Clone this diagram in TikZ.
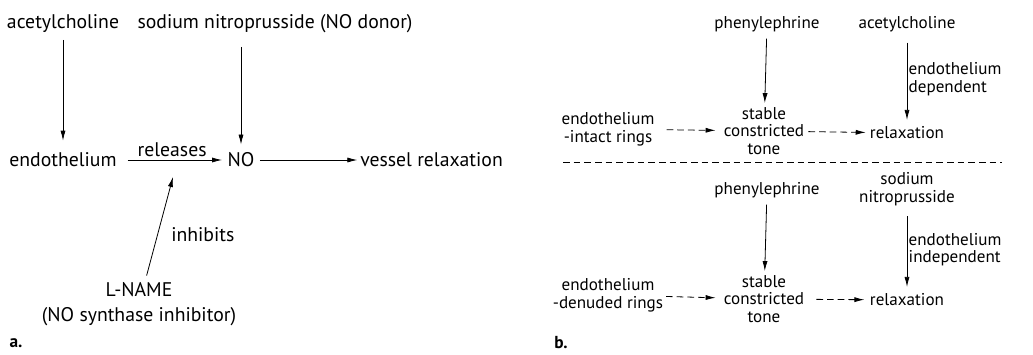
\documentclass[tikz,border=0pt]{standalone}
\usepackage{fontspec}
\setmainfont{PT Sans}
\usetikzlibrary{arrows.meta}

\begin{document}
\begin{tikzpicture}[
    x=0.75pt, y=-0.75pt,
    txta/.style={inner sep=0pt, align=center,
                 font=\fontsize{14.8}{18.8}\selectfont},
    txtb/.style={inner sep=0pt, align=center,
                 font=\fontsize{12.8}{13.2}\selectfont},
    arrow/.style={-{Latex[length=7.5pt, width=3.8pt]}, line width=0.6pt},
    dasharrow/.style={arrow, dash pattern=on 5pt off 3pt},
    panel/.style={inner sep=0pt, font=\bfseries\fontsize{13}{15}\selectfont}
]
    \useasboundingbox (0,0) rectangle (1033,354);

    % Panel a
    \node[txta] (ach) at (63, 24) {acetylcholine};
    \node[txta] (snp) at (275, 24) {sodium nitroprusside (NO donor)};
    \node[txta] (endo) at (63, 160) {endothelium};
    \node[txta] (no) at (241, 160) {NO};
    \node[txta, anchor=west] (vessel) at (360, 160) {vessel relaxation};
    \node[txta] (lname) at (139, 304) {L-NAME\\(NO synthase inhibitor)};
    \coordinate (inhtip) at (173, 177);
    \node[panel] (pa) at (16, 343) {a.};

    \draw[arrow, shorten <=5pt, shorten >=9pt] (ach) -- (endo);
    \draw[arrow, shorten <=10pt, shorten >=6pt] (snp.south -| no) -- (no);
    \draw[arrow, shorten <=8pt, shorten >=4pt] (endo) --
        node[above=2pt, txta] {releases} (no);
    \draw[arrow, shorten <=4pt, shorten >=2pt] (no) -- (vessel);
    \draw[arrow, shorten <=5pt] (lname) -- node[pos=0.45, right=10pt, txta]
        {inhibits} (inhtip);

    % Panel b, endothelium-intact
    \node[txtb] (phen1) at (767, 24) {phenylephrine};
    \node[txtb] (ach2) at (907, 24) {acetylcholine};
    \node[txtb] (intact) at (608, 129) {endothelium\\-intact rings};
    \node[txtb] (stable1) at (764, 131) {stable\\constricted\\tone};
    \node[txtb] (relax1) at (907, 133) {relaxation};

    \draw[arrow, shorten <=5pt, shorten >=3pt] (phen1) -- (stable1);
    \draw[arrow, shorten <=8pt, shorten >=5pt] (ach2) --
        node[right, txtb, align=left, inner sep=1pt] {endothelium\\dependent} (relax1);
    \draw[dasharrow, shorten <=9pt, shorten >=6pt] (intact) -- (stable1);
    \draw[dasharrow, shorten <=3pt, shorten >=3pt] (stable1) -- (relax1);

    % Trennlinie
    \draw[line width=0.6pt, dash pattern=on 5pt off 3pt] (563, 162) -- (1002, 162);

    % Panel b, endothelium-denuded
    \node[txtb] (phen2) at (767, 190) {phenylephrine};
    \node[txtb] (snp2) at (907, 189) {sodium\\nitroprusside};
    \node[txtb] (denuded) at (608, 295) {endothelium\\-denuded rings};
    \node[txtb] (stable2) at (764, 299) {stable\\constricted\\tone};
    \node[txtb] (relax2) at (907, 300) {relaxation};
    \node[panel] (pb) at (561, 343) {b.};

    \draw[arrow, shorten <=5pt, shorten >=3pt] (phen2) -- (stable2);
    \draw[arrow, shorten <=8pt, shorten >=5pt] (snp2) --
        node[right, txtb, align=left, inner sep=1pt] {endothelium\\independent} (relax2);
    \draw[dasharrow, shorten <=2pt, shorten >=6pt] (denuded) -- (stable2);
    \draw[dasharrow, shorten <=9pt, shorten >=4pt] (stable2) -- (relax2);

\end{tikzpicture}
\end{document}
